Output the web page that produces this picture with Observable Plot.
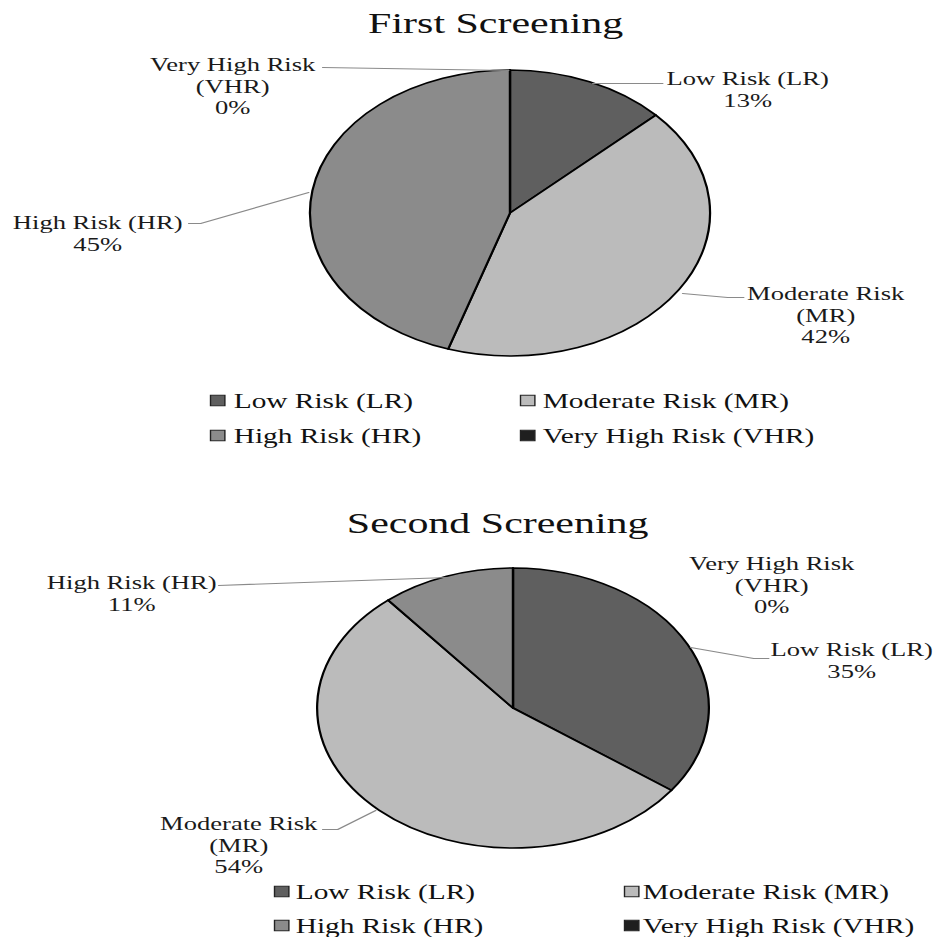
<!DOCTYPE html>
<html>
<head>
<meta charset="utf-8">
<script src="https://cdn.jsdelivr.net/npm/d3@7"></script>
<script src="https://cdn.jsdelivr.net/npm/@observablehq/plot@0.6"></script>
<style>
  html, body { margin: 0; padding: 0; background: #fff; }
  #chart { width: 936px; height: 937px; overflow: hidden; }
</style>
</head>
<body>
<div id="chart"></div>
<script>
// ---- data ----
const categories = ["Low Risk (LR)", "Moderate Risk (MR)", "High Risk (HR)", "Very High Risk (VHR)"];
const wrappedNames = ["Low Risk (LR)", "Moderate Risk\n(MR)", "High Risk (HR)", "Very High Risk\n(VHR)"];
const firstScreening = [13, 42, 45, 0];
const secondScreening = [35, 54, 11, 0];
const titles = ["First Screening", "Second Screening"];
const grays = ["#5f5f5f", "#bbbbbb", "#8b8b8b", "#1f1f1f"];

// ---- layout (reference pixel space, stretched horizontally like the original) ----
const W = 936, H = 937, STRETCH = 1.4;
const innerW = Math.round(W / STRETCH);
const FONT = "'Liberation Serif', 'Times New Roman', Times, serif";
const LABEL_FS = 19, LEGEND_FS = 21, TITLE_FS = 30;

const layouts = [
  {
    title: {x: 495, y: 32}, cx: 510, cy: 213, r: 143,
    legend: {rows: [407, 442], swatchRows: [400, 435], swatchX: [217, 527], textX: [233, 542]},
    labels: [
      {x: 747, y: 83, leader: [[592, 83], [662, 83]]},
      {x: 825, y: 298, leader: [[682, 293], [727, 297], [743, 297]]},
      {x: 97, y: 227, leader: [[188, 223], [200, 223], [308, 192]]},
      {x: 232, y: 69, leader: [[322, 67], [508, 70]]}
    ]
  },
  {
    title: {x: 497, y: 532}, cx: 513, cy: 708, r: 140,
    legend: {rows: [898, 932], swatchRows: [891, 925], swatchX: [281, 631], textX: [295, 642]},
    labels: [
      {x: 851, y: 654, leader: [[690, 647], [753, 658], [768, 658]]},
      {x: 238, y: 828, leader: [[322, 829], [337, 829], [375, 810]]},
      {x: 131, y: 587, leader: [[218, 585], [447, 577]]},
      {x: 771, y: 568, leader: null}
    ]
  }
];
const seriesValues = [firstScreening, secondScreening];

// ---- build mark data ----
const titleData = layouts.map((L, i) => ({text: titles[i], x: L.title.x, y: L.title.y}));
const labelData = [];
const leaderData = [];
const legendSwatches = [];
const legendTexts = [];
layouts.forEach((L, i) => {
  categories.forEach((c, j) => {
    const lab = L.labels[j];
    labelData.push({text: wrappedNames[j] + "\n" + seriesValues[i][j] + "%", x: lab.x, y: lab.y});
    if (lab.leader) lab.leader.forEach(([x, y]) => leaderData.push({x, y, key: i + "-" + j}));
    const col = j % 2, row = Math.floor(j / 2);
    legendSwatches.push({category: c, x: L.legend.swatchX[col], y: L.legend.swatchRows[row]});
    legendTexts.push({text: c, x: L.legend.textX[col], y: L.legend.rows[row]});
  });
});

// pie render mark: slices from the data through d3.pie, placed by Plot's scales
function pieMark(values, L) {
  const data = categories.map((c, j) => ({category: c, value: values[j]}));
  return (index, scales) => {
    const color = scales.color ?? (c => grays[categories.indexOf(c)]);
    const px = scales.x(L.cx), py = scales.y(L.cy);
    const r = Math.abs(scales.y(L.cy + L.r) - scales.y(L.cy));
    const arcs = d3.pie().sort(null).value(d => d.value)(data);
    const arc = d3.arc().innerRadius(0).outerRadius(r);
    const g = d3.create("svg:g").attr("transform", `translate(${px},${py})`);
    g.selectAll("path").data(arcs).join("path")
      .attr("d", arc)
      .attr("fill", d => color(d.data.category))
      .attr("stroke", "#000")
      .attr("stroke-width", 1.6)
      .attr("stroke-linejoin", "round");
    return g.node();
  };
}

const plot = Plot.plot({
  width: innerW,
  height: H,
  margin: 0,
  style: {background: "#fff"},
  x: {domain: [0, W], range: [0, innerW], axis: null},
  y: {domain: [0, H], range: [0, H], axis: null},
  color: {domain: categories, range: grays},
  marks: [
    pieMark(firstScreening, layouts[0]),
    pieMark(secondScreening, layouts[1]),
    Plot.line(leaderData, {x: "x", y: "y", z: "key", stroke: "#8a8a8a", strokeWidth: 1.2}),
    Plot.text(titleData, {x: "x", y: "y", text: "text", fontSize: TITLE_FS, fontFamily: FONT, fill: "#111",
      textAnchor: "middle", lineAnchor: "top", dy: -0.71 * TITLE_FS}),
    Plot.text(labelData, {x: "x", y: "y", text: "text", fontSize: LABEL_FS, fontFamily: FONT, fill: "#1a1a1a",
      textAnchor: "middle", lineAnchor: "top", lineHeight: 1.13, dy: -0.71 * LABEL_FS}),
    Plot.dot(legendSwatches, {x: "x", y: "y", symbol: "square", r: 5.8, fill: "category", stroke: "#222", strokeWidth: 1}),
    Plot.text(legendTexts, {x: "x", y: "y", text: "text", fontSize: LEGEND_FS, fontFamily: FONT, fill: "#111",
      textAnchor: "start", lineAnchor: "top", dy: -0.71 * LEGEND_FS})
  ]
});

plot.setAttribute("preserveAspectRatio", "none");
plot.style.width = W + "px";
plot.style.height = H + "px";
plot.style.maxWidth = "none";
document.getElementById("chart").appendChild(plot);
</script>
</body>
</html>
